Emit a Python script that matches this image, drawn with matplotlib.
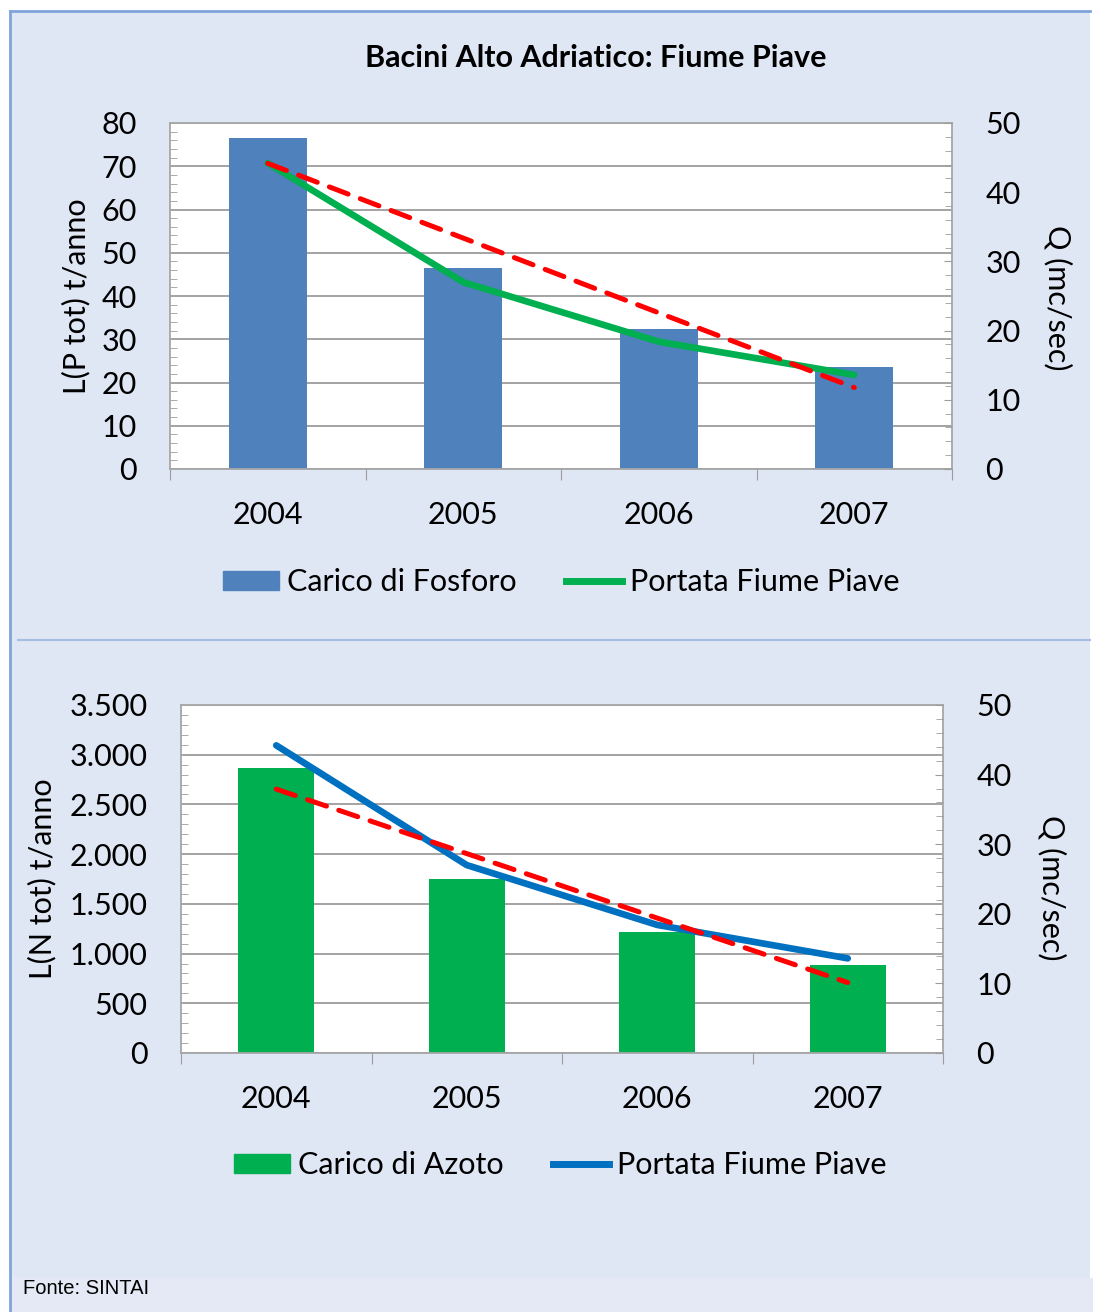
import numpy as np
import matplotlib.pyplot as plt
from matplotlib.patches import Rectangle, Patch
from matplotlib.lines import Line2D
from matplotlib.ticker import MultipleLocator, FixedLocator, NullFormatter

plt.rcParams['font.family'] = ['Lato', 'DejaVu Sans']

years = ['2004', '2005', '2006', '2007']
fosforo = [76.5, 46.5, 32.4, 23.6]          # t/anno
azoto = [2870, 1750, 1220, 885]             # t/anno
portata = [44.2, 27.0, 18.4, 13.6]          # mc/sec

BG = '#DFE6F4'
W, H = 1093, 1312
FS = 22


def px(x, y):
    # pixel coords (top-left origin) -> figure fraction
    return x / W, 1 - y / H


def panel(fig, rect_px, bars, bar_color, line_color, ymax, ystep, yminor, ylabel, ylabel_x, fmt):
    x0, y0, x1, y1 = rect_px
    ax = fig.add_axes([x0 / W, 1 - y1 / H, (x1 - x0) / W, (y1 - y0) / H])
    xs = np.arange(len(years))
    ax.set_facecolor('white')
    ax.bar(xs, bars, width=0.4, color=bar_color, zorder=2)
    ax.set_xlim(-0.5, len(years) - 0.5)
    ax.set_ylim(0, ymax)
    ax.yaxis.set_major_locator(MultipleLocator(ystep))
    ax.yaxis.set_minor_locator(MultipleLocator(yminor))
    ax.set_yticklabels([fmt(v) for v in ax.get_yticks()])
    ax.grid(axis='y', which='major', color='#9C9C9C', lw=1.3, zorder=1)
    ax.tick_params(axis='y', which='major', length=0, pad=24, labelsize=FS)
    ax.tick_params(axis='y', which='minor', direction='in', length=5, color='#9C9C9C')
    # x ticks: boundaries as majors, labels as minors
    ax.xaxis.set_major_locator(FixedLocator(np.arange(-0.5, len(years), 1.0)))
    ax.xaxis.set_major_formatter(NullFormatter())
    ax.xaxis.set_minor_locator(FixedLocator(xs))
    ax.set_xticklabels(years, minor=True)
    ax.tick_params(axis='x', which='major', direction='out', length=8, color='#9C9C9C')
    ax.tick_params(axis='x', which='minor', length=0, pad=23, labelsize=FS)
    for s in ax.spines.values():
        s.set_color('#A6A6A6')
        s.set_linewidth(1.3)

    ax2 = ax.twinx()
    ax2.plot(xs, portata, color=line_color, lw=4.8, zorder=3, solid_capstyle='round')
    # linear trend of the loads (left axis units), drawn on top
    coef = np.polyfit(xs, bars, 1)
    ax2.plot(xs, np.polyval(coef, xs), transform=ax.transData, color='#FF0000', lw=3.6,
             dashes=(4, 2.6), zorder=4, dash_capstyle='round')
    ax2.set_ylim(0, 50)
    ax2.yaxis.set_major_locator(MultipleLocator(10))
    ax2.yaxis.set_minor_locator(MultipleLocator(2))
    ax2.tick_params(axis='y', which='major', direction='in', length=6, color='#9C9C9C',
                    pad=24, labelsize=FS)
    ax2.tick_params(axis='y', which='minor', direction='in', length=5, color='#9C9C9C')
    for s in ax2.spines.values():
        s.set_visible(False)

    cy = (y0 + y1) / 2
    fig.text(*px(ylabel_x, cy), ylabel, rotation=90, ha='center', va='center', fontsize=FS)
    return ax


def main():
    fig = plt.figure(figsize=(W / 100, H / 100), dpi=100, facecolor='white')

    # background panels and borders
    fig.patches.append(Rectangle(px(10, 1278), 1080 / W, 1267 / H, transform=fig.transFigure,
                                 facecolor=BG, edgecolor='none', zorder=-5))
    fig.patches.append(Rectangle(px(10, 1312), 1083 / W, 34 / H, transform=fig.transFigure,
                                 facecolor='#E4E9F5', edgecolor='none', zorder=-5))
    fig.lines.append(Line2D([10 / W, 10 / W], [1 - 11 / H, 0], transform=fig.transFigure,
                            color='#7FA3DB', lw=2))
    fig.lines.append(Line2D([10 / W, 1090 / W], [1 - 11 / H, 1 - 11 / H], transform=fig.transFigure,
                            color='#7FA3DB', lw=2))
    fig.lines.append(Line2D([18 / W, 1090 / W], [1 - 640 / H, 1 - 640 / H], transform=fig.transFigure,
                            color='#A7BEE3', lw=1.5))

    fig.text(*px(596, 58), 'Bacini Alto Adriatico: Fiume Piave', ha='center', va='center',
             fontsize=22, fontweight='bold')

    ax1 = panel(fig, (170, 123, 952, 469), fosforo, '#4F81BD', '#00B050', 80, 10, 2,
                'L(P tot) t/anno', 76, lambda v: f'{int(v)}')
    fig.text(*px(1058, 298), 'Q (mc/sec)', rotation=270, ha='center', va='center', fontsize=FS)
    ax1.legend(handles=[Patch(color='#4F81BD', label='Carico di Fosforo'),
                        Line2D([], [], color='#00B050', lw=5, label='Portata Fiume Piave')],
               loc='center', bbox_to_anchor=px(561, 582), bbox_transform=fig.transFigure,
               ncol=2, frameon=False, fontsize=FS, handlelength=1.85, handleheight=0.6,
               handletextpad=0.25, columnspacing=1.6)

    ax3 = panel(fig, (181, 705, 943, 1053), azoto, '#00B050', '#0070C0', 3500, 500, 100,
                'L(N tot) t/anno', 42, lambda v: f'{int(v):,}'.replace(',', '.'))
    fig.text(*px(1052, 888), 'Q (mc/sec)', rotation=270, ha='center', va='center', fontsize=FS)
    ax3.legend(handles=[Patch(color='#00B050', label='Carico di Azoto'),
                        Line2D([], [], color='#0070C0', lw=5, label='Portata Fiume Piave')],
               loc='center', bbox_to_anchor=px(560, 1165), bbox_transform=fig.transFigure,
               ncol=2, frameon=False, fontsize=FS, handlelength=1.85, handleheight=0.6,
               handletextpad=0.25, columnspacing=1.6)

    fig.text(*px(23, 1289), 'Fonte: SINTAI', ha='left', va='center', fontsize=14.5,
             family=['Liberation Sans Narrow', 'Liberation Sans', 'DejaVu Sans'])


if __name__ == '__main__':
    main()
    plt.savefig('out.png', dpi=100)
    print('Saved to out.png')
